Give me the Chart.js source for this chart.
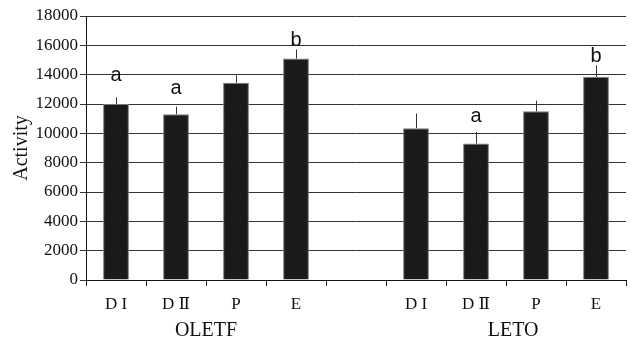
<!DOCTYPE html>
<html>
<head>
<meta charset="utf-8">
<script src="https://cdn.jsdelivr.net/npm/chart.js@4/dist/chart.umd.min.js"></script>
<style>
  html, body { margin: 0; padding: 0; background: #fff; }
  #wrap { width: 631px; height: 339px; position: relative; }
</style>
</head>
<body>
<div id="wrap"><canvas id="c" width="631" height="339"></canvas></div>
<script>
// Phases per strain; the empty slot separates the two strains
const categories = ['D I', 'D \u2161', 'P', 'E', '', 'D I', 'D \u2161', 'P', 'E'];
const activity   = [12000, 11300, 13450, 15100, null, 10350, 9300, 11500, 13850];
const errorUp    = [450, 520, 500, 620, null, 1000, 800, 730, 790];
const letters    = ['a', 'a', '', 'b', '', '', 'a', '', 'b'];
const strains    = ['OLETF', 'LETO'];
const yMax = 18000;
const yStep = 2000;

const SERIF = '"Liberation Serif", "Times New Roman", "DejaVu Serif", serif';
const SANS = '"Liberation Sans Narrow", "Liberation Sans", Arial, sans-serif';

// Upper error whiskers and significance letters above each bar
const annotatePlugin = {
  id: 'annotate',
  afterDatasetsDraw(chart, args, opts) {
    const ctx = chart.ctx;
    const x = chart.scales.x, y = chart.scales.y;
    ctx.save();
    activity.forEach((v, i) => {
      if (v == null) return;
      const cx = x.getPixelForValue(i);
      const yTop = y.getPixelForValue(v);
      const yErr = y.getPixelForValue(v + errorUp[i]);
      ctx.strokeStyle = '#333';
      ctx.lineWidth = 1;
      ctx.beginPath();
      ctx.moveTo(Math.round(cx) + 0.5, yTop);
      ctx.lineTo(Math.round(cx) + 0.5, yErr);
      ctx.stroke();
      if (letters[i]) {
        ctx.fillStyle = '#111';
        ctx.font = '20px ' + SANS;
        ctx.textAlign = 'center';
        ctx.textBaseline = 'alphabetic';
        ctx.fillText(letters[i], cx, yErr - opts.gaps[i]);
      }
    });
    ctx.restore();
  },
  afterDraw(chart, args, opts) {
    const ctx = chart.ctx;
    const x = chart.scales.x;
    ctx.save();
    ctx.fillStyle = '#111';
    ctx.font = '20px ' + SERIF;
    ctx.textAlign = 'center';
    ctx.textBaseline = 'middle';
    strains.forEach((s, k) => {
      const p = opts.centers[k];
      const i0 = Math.floor(p);
      const px = x.getPixelForValue(i0) + (p - i0) * (x.getPixelForValue(i0 + 1) - x.getPixelForValue(i0));
      ctx.fillText(s, px, chart.chartArea.bottom + opts.offset);
    });
    ctx.restore();
  }
};

new Chart(document.getElementById('c'), {
  type: 'bar',
  data: {
    labels: categories,
    datasets: [{
      data: activity,
      backgroundColor: '#1a1a1a',
      borderColor: '#7a7a7a',
      borderWidth: 1,
      barPercentage: 0.43,
      categoryPercentage: 1.0
    }]
  },
  plugins: [annotatePlugin],
  options: {
    responsive: false,
    animation: false,
    devicePixelRatio: 1,
    layout: { padding: { top: 16, right: 5, bottom: 0, left: 0 } },
    plugins: {
      legend: { display: false },
      tooltip: { enabled: false },
      annotate: {
        gaps: [16, 13, 0, 3, 0, 0, 10, 0, 3],
        centers: [1.5, 6.62],
        offset: 51
      }
    },
    scales: {
      x: {
        grid: { display: true, drawOnChartArea: false, drawTicks: true, tickLength: 6, color: '#222', offset: true },
        border: { display: true, color: '#111', width: 1 },
        ticks: { color: '#111', font: { family: SERIF, size: 17 }, padding: 8, maxRotation: 0, autoSkip: false },
        afterFit(s) { s.height = 59; }
      },
      y: {
        min: 0,
        max: yMax,
        ticks: { stepSize: yStep, color: '#111', font: { family: SERIF, size: 17 }, padding: 2,
                 callback: (v) => String(v) },
        grid: { color: '#333', lineWidth: 1, tickLength: 6 },
        border: { display: true, color: '#111', width: 1 },
        title: { display: true, text: 'Activity', color: '#111', font: { family: SERIF, size: 20 }, padding: { top: 10, bottom: 0 } },
        afterFit(s) { s.width = 86; }
      }
    }
  }
});
</script>
</body>
</html>
